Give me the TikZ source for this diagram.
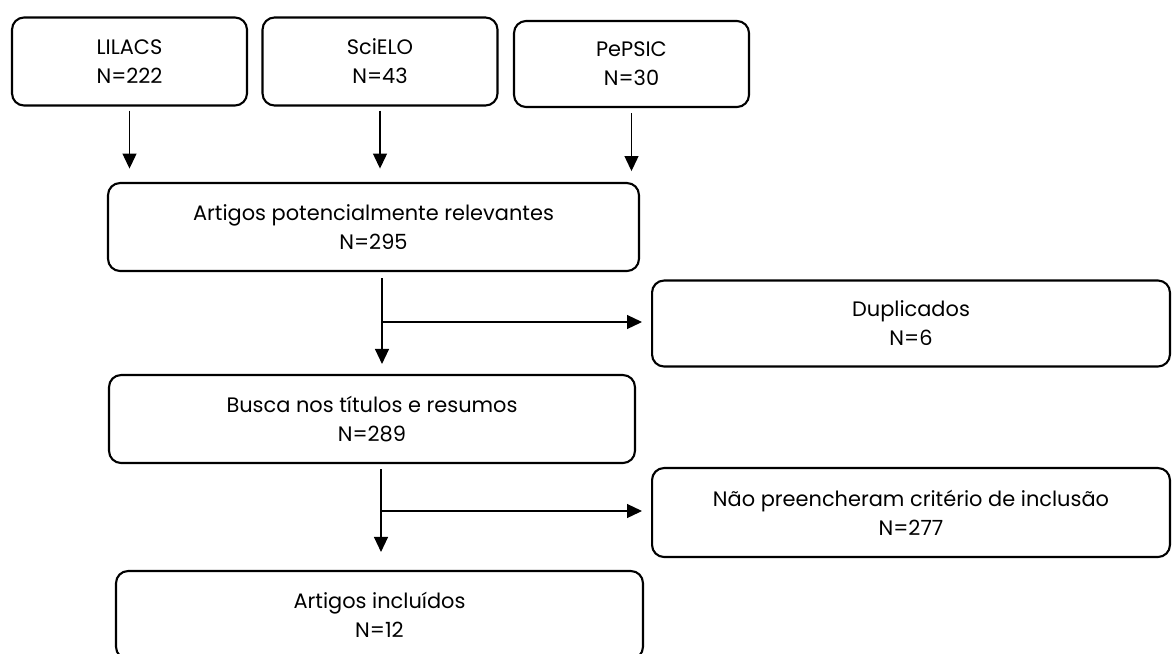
\documentclass[tikz,border=0pt]{standalone}
\usepackage{fontspec}
\setmainfont{Poppins}
\usetikzlibrary{arrows.meta, positioning}

\begin{document}
\begin{tikzpicture}[x=0.02cm, y=-0.02cm,
        bx/.style={draw, line width=1.2pt, rounded corners=0.24cm, align=center,
                   inner sep=0pt, font=\fontsize{11.9}{16.5}\selectfont},
        src/.style={bx, minimum width=4.7cm, minimum height=1.76cm},
        wide/.style={bx, minimum width=10.56cm, minimum height=1.76cm},
        side/.style={bx, minimum width=10.36cm, minimum height=1.72cm},
        arr/.style={line width=0.7pt, -{Triangle[width=0.28cm, length=0.3cm]}}]
        \useasboundingbox (0,0) rectangle (1173,653);
        \node[src] (lilacs) at (129.5, 61.5) {LILACS\\N=222};
        \node[src] (scielo) at (380, 61.5) {SciELO\\N=43};
        \node[src, minimum height=1.72cm] (pepsic) at (631.5, 64) {PePSIC\\N=30};
        \node[wide, minimum width=10.62cm] (relev) at (373.5, 227)
          {Artigos potencialmente relevantes\\N=295};
        \node[side] (dup) at (911, 323.5) {Duplicados\\N=6};
        \node[wide, minimum width=10.52cm] (busca) at (372, 419)
          {Busca nos títulos e resumos\\N=289};
        \node[side, minimum height=1.78cm] (nao) at (911, 512.5)
          {Não preencheram critério de inclusão\\N=277};
        \node[wide, minimum width=10.54cm] (incl) at (379.5, 615)
          {Artigos incluídos\\N=12};
        \coordinate (j1) at (382, 322);
        \coordinate (j2) at (381, 511);
        \draw[arr] ([yshift=-0.08cm]lilacs.south) -- ++(0,58);
        \draw[arr] ([yshift=-0.08cm]scielo.south) -- ++(0,58);
        \draw[arr] ([yshift=-0.1cm]pepsic.south) -- ++(0,58);
        \draw[arr] ([yshift=-0.12cm]relev.south -| j1) -- ([yshift=0.2cm]busca.north -| j1);
        \draw[arr] (j1) -- ([xshift=-0.18cm]dup.west |- j1);
        \draw[arr] ([yshift=-0.1cm]busca.south -| j2) -- ([yshift=0.36cm]incl.north -| j2);
        \draw[arr] (j2) -- ([xshift=-0.18cm]nao.west |- j2);
\end{tikzpicture}
\end{document}
